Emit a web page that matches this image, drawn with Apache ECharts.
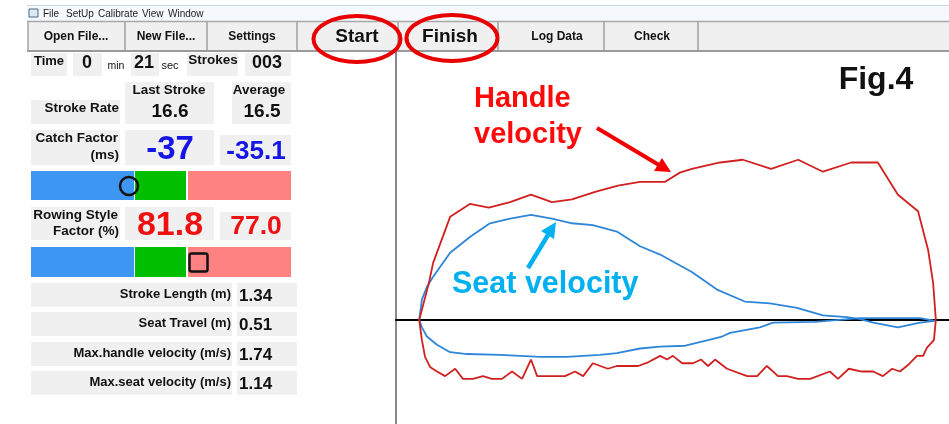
<!DOCTYPE html>
<html>
<head>
<meta charset="utf-8">
<script src="https://cdn.jsdelivr.net/npm/echarts@6/dist/echarts.min.js"></script>
<style>
  html, body { margin: 0; padding: 0; background: #fff; }
  #main { width: 949px; height: 424px; }
</style>
</head>
<body>
<div id="main"></div>
<script>
// handle / seat velocity (m/s) against handle position (m)
var handleDrive = [[0,0],[0.025,0.40],[0.036,0.62],[0.080,1.12],[0.131,1.26],[0.180,1.22],[0.235,1.28],
  [0.289,1.36],[0.343,1.28],[0.395,1.31],[0.455,1.39],[0.514,1.46],[0.571,1.50],[0.636,1.50],[0.674,1.60],
  [0.705,1.64],[0.778,1.71],[0.837,1.74],[0.910,1.64],[0.980,1.74],[1.044,1.61],[1.117,1.71],[1.186,1.71],
  [1.238,1.36],[1.290,1.18],[1.316,0.76],[1.329,0.40],[1.336,0]];
var handleRecovery = [[1.336,0],[1.331,-0.22],[1.313,-0.30],[1.303,-0.39],[1.287,-0.39],[1.264,-0.49],
  [1.243,-0.56],[1.223,-0.53],[1.199,-0.61],[1.174,-0.56],[1.145,-0.56],[1.111,-0.53],[1.083,-0.64],
  [1.062,-0.56],[1.011,-0.64],[0.980,-0.64],[0.951,-0.61],[0.928,-0.61],[0.899,-0.50],[0.874,-0.61],
  [0.848,-0.61],[0.796,-0.53],[0.765,-0.43],[0.747,-0.50],[0.729,-0.43],[0.708,-0.47],[0.680,-0.47],
  [0.656,-0.39],[0.641,-0.43],[0.623,-0.39],[0.592,-0.46],[0.566,-0.50],[0.537,-0.50],[0.511,-0.50],
  [0.488,-0.53],[0.449,-0.47],[0.424,-0.61],[0.403,-0.56],[0.377,-0.61],[0.305,-0.61],[0.289,-0.43],
  [0.266,-0.64],[0.240,-0.56],[0.214,-0.64],[0.188,-0.64],[0.165,-0.61],[0.139,-0.64],[0.113,-0.64],
  [0.093,-0.53],[0.067,-0.61],[0.046,-0.56],[0.028,-0.51],[0.015,-0.40],[0.007,-0.22],[0,0]];
var seatDrive = [[0,0],[0.007,0.22],[0.020,0.36],[0.036,0.47],[0.080,0.73],[0.131,0.90],[0.183,1.05],
  [0.235,1.10],[0.289,1.14],[0.343,1.10],[0.395,1.05],[0.449,1.03],[0.511,0.96],[0.571,0.80],[0.623,0.71],
  [0.705,0.52],[0.770,0.33],[0.842,0.20],[0.907,0.18],[0.977,0.13],[1.044,0.05],[1.106,0.03],[1.140,0.01],
  [1.174,-0.03],[1.238,-0.08],[1.295,-0.03],[1.334,-0.01]];
var seatRecovery = [[1.334,0],[1.295,0.02],[1.140,0.02],[1.024,-0.02],[0.915,-0.03],[0.881,-0.08],
  [0.804,-0.14],[0.783,-0.18],[0.747,-0.22],[0.688,-0.28],[0.623,-0.29],[0.571,-0.31],[0.511,-0.36],
  [0.467,-0.38],[0.382,-0.40],[0.312,-0.40],[0.209,-0.38],[0.124,-0.37],[0.080,-0.35],[0.046,-0.27],
  [0.020,-0.18],[0.007,-0.08],[0,0]];

// panel readouts
var menuItems = ["File", "SetUp", "Calibrate", "View", "Window"];
var toolButtons = ["Open File...", "New File...", "Settings", "Start", "Finish", "Log Data", "Check"];
var statLabels = ["Stroke Length (m)", "Seat Travel (m)", "Max.handle velocity (m/s)", "Max.seat velocity (m/s)"];
var statValues = ["1.34", "0.51", "1.74", "1.14"];

var FONT = "'Liberation Sans', Arial, sans-serif";
var G = [];

function box(x, y, w, h, fill) {
  G.push({ type: 'rect', shape: { x: x, y: y, width: w, height: h }, style: { fill: fill || '#f0f0f0' }, silent: true });
}
function txt(x, y, t, size, opt) {
  opt = opt || {};
  G.push({ type: 'text', x: x, y: y, silent: true, z: 5, style: {
    text: t, fontFamily: FONT, fontSize: size, fontWeight: opt.weight || 'bold',
    fill: opt.color || '#111', align: opt.align || 'center', verticalAlign: 'middle',
    shadowColor: opt.shadow ? 'rgba(0,0,0,0.35)' : null, shadowBlur: opt.shadow ? 2 : 0,
    shadowOffsetX: opt.shadow ? 2 : 0, shadowOffsetY: opt.shadow ? 2 : 0
  }});
}
function hline(x1, x2, y, c, w) {
  G.push({ type: 'line', shape: { x1: x1, y1: y, x2: x2, y2: y }, style: { stroke: c, lineWidth: w }, silent: true });
}
function vline(x, y1, y2, c, w) {
  G.push({ type: 'line', shape: { x1: x, y1: y1, x2: x, y2: y2 }, style: { stroke: c, lineWidth: w }, silent: true });
}

// menu bar
box(27, 5, 922, 16, '#f5f8fc');
hline(27, 949, 5.5, '#c4d6ea', 1);
G.push({ type: 'rect', shape: { x: 29, y: 9, width: 9, height: 8 }, style: { fill: '#dfe8f0', stroke: '#4a6a8a', lineWidth: 1 }, silent: true });
var mx = [43, 66, 98, 142, 168];
menuItems.forEach(function (m, i) { txt(mx[i], 14, m, 10, { weight: 'normal', align: 'left', color: '#222' }); });

// toolbar
box(27, 21, 922, 30, '#f0f0f0');
hline(27, 949, 21.5, '#a8a8a8', 1.5);
hline(27, 949, 51, '#9a9a9a', 2);
vline(28, 21, 51, '#a8a8a8', 1.5);
var seps = [125, 207, 297, 398, 498, 604, 698];
seps.forEach(function (s) { vline(s, 22, 50, '#a0a0a0', 1.5); });
var bx = [76, 166, 252, 357, 450, 557, 652];
toolButtons.forEach(function (b, i) {
  var big = (b === 'Start' || b === 'Finish');
  txt(bx[i], 37, b, big ? 19 : 12);
});
G.push({ type: 'ellipse', shape: { cx: 357, cy: 39, rx: 43.5, ry: 23 }, style: { fill: null, stroke: '#e80000', lineWidth: 4 }, silent: true, z: 6 });
G.push({ type: 'ellipse', shape: { cx: 452, cy: 38, rx: 45.5, ry: 23 }, style: { fill: null, stroke: '#e80000', lineWidth: 4 }, silent: true, z: 6 });

// left panel row 1
box(31, 53, 36, 23); txt(49, 61, 'Time', 13);
box(73, 53, 29, 23); txt(87, 63, '0', 18);
txt(116, 66, 'min', 10.5, { weight: 'normal' });
box(131, 53, 28, 23); txt(144, 63, '21', 18);
txt(170, 66, 'sec', 11, { weight: 'normal' });
box(187, 53, 51, 23); txt(213, 60, 'Strokes', 13.5);
box(245, 53, 46, 23); txt(267, 63, '003', 18);

// row 2
box(125, 82, 89, 42); txt(169, 90, 'Last Stroke', 13.4); txt(170, 112, '16.6', 19);
box(232, 82, 59, 42); txt(259, 90, 'Average', 13.4); txt(262, 112, '16.5', 19);
box(31, 100, 89, 24); txt(119, 108, 'Stroke Rate', 13.4, { align: 'right' });

// catch factor
box(31, 130, 89, 35); txt(118, 138, 'Catch Factor', 13.5, { align: 'right' }); txt(119, 155, '(ms)', 13.5, { align: 'right' });
box(125, 130, 89, 35); txt(170, 150, '-37', 33, { color: '#1515e6' });
box(220, 135, 71, 30); txt(256, 152, '-35.1', 26, { color: '#1515e6' });
box(31, 171, 103, 29, '#3d97f2'); box(135, 171, 51, 29, '#00bf00'); box(188, 171, 103, 29, '#ff8282');
G.push({ type: 'circle', shape: { cx: 129, cy: 186, r: 9 }, style: { fill: null, stroke: '#111', lineWidth: 2.5 }, silent: true, z: 5 });

// rowing style factor
box(31, 207, 89, 33); txt(118, 215, 'Rowing Style', 13.5, { align: 'right' }); txt(119, 231, 'Factor (%)', 13.5, { align: 'right' });
box(125, 207, 89, 33); txt(170, 226, '81.8', 34, { color: '#ee1111' });
box(220, 212, 71, 28); txt(256, 227, '77.0', 26.5, { color: '#ee1111' });
box(31, 247, 103, 30, '#3d97f2'); box(135, 247, 51, 30, '#00bf00'); box(188, 247, 103, 30, '#ff8282');
G.push({ type: 'rect', shape: { x: 189.5, y: 253.5, width: 18, height: 18, r: 2 }, style: { fill: null, stroke: '#111', lineWidth: 2.5 }, silent: true, z: 5 });

// stats
var rowY = [283, 312, 342, 371];
statLabels.forEach(function (l, i) {
  box(31, rowY[i], 201, 24); box(237, rowY[i], 60, 24);
  txt(231, rowY[i] + 11, l, 13, { align: 'right' });
  txt(239, rowY[i] + 13, statValues[i], 17, { align: 'left' });
});

// chart annotations
txt(876, 80, 'Fig.4', 32, { color: '#111' });
txt(474, 99, 'Handle', 29, { align: 'left', color: '#ff0a0a', shadow: true });
txt(474, 135, 'velocity', 29, { align: 'left', color: '#ff0a0a', shadow: true });
txt(452, 285, 'Seat velocity', 30.5, { align: 'left', color: '#00b0f0' });
G.push({ type: 'line', shape: { x1: 597, y1: 128, x2: 659, y2: 165 }, style: { stroke: '#f00000', lineWidth: 4 }, silent: true, z: 5 });
G.push({ type: 'polygon', shape: { points: [[671, 172], [654, 171], [662, 158]] }, style: { fill: '#f00000' }, silent: true, z: 5 });
G.push({ type: 'line', shape: { x1: 528, y1: 268, x2: 548, y2: 235 }, style: { stroke: '#00b0f0', lineWidth: 4.5 }, silent: true, z: 5 });
G.push({ type: 'polygon', shape: { points: [[556, 222], [554, 239], [541, 231]] }, style: { fill: '#00b0f0' }, silent: true, z: 5 });

var myChart = echarts.init(document.getElementById('main'));
var option = {
  animation: false,
  backgroundColor: '#ffffff',
  grid: { left: 396, right: 0, top: 52, bottom: 0 },
  xAxis: {
    type: 'value', min: -0.06, max: 1.37,
    axisLine: { onZero: true, lineStyle: { color: '#000', width: 2 } },
    axisTick: { show: false }, axisLabel: { show: false }, splitLine: { show: false }
  },
  yAxis: {
    type: 'value', min: -1.13, max: 2.91,
    axisLine: { show: true, onZero: false, lineStyle: { color: '#8a8a8a', width: 2 } },
    axisTick: { show: false }, axisLabel: { show: false }, splitLine: { show: false }
  },
  series: [
    { name: 'Handle velocity', type: 'line', data: handleDrive.concat(handleRecovery), showSymbol: false,
      lineStyle: { color: '#d02020', width: 1.8 }, z: 3 },
    { name: 'Seat velocity', type: 'line', data: seatDrive.concat(seatRecovery), showSymbol: false,
      lineStyle: { color: '#2f86d8', width: 1.8 }, z: 2 }
  ],
  graphic: G
};
myChart.setOption(option);
window.onresize = function () { myChart.resize(); };
</script>
</body>
</html>
